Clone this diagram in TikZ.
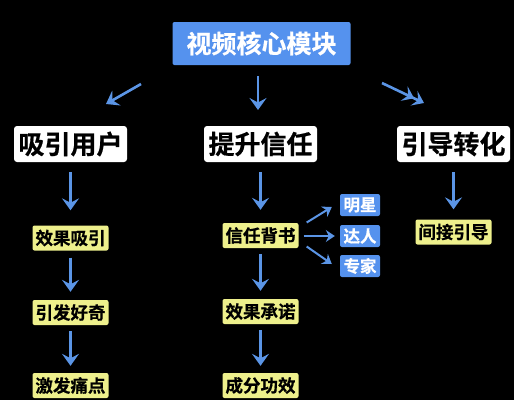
\documentclass[tikz,border=0pt]{standalone}
\usepackage{fontspec}
\setmainfont{Noto Sans CJK SC}[BoldFont={Noto Sans CJK SC Bold},BoldFeatures={FakeBold=0.6}]
\usetikzlibrary{arrows.meta,calc}
\definecolor{bluebox}{HTML}{5592EE}
\definecolor{arrowblue}{HTML}{5B95E6}
\definecolor{yellowbox}{HTML}{EEF08C}
\tikzset{
  titlebox/.style={fill=bluebox, text=white, rounded corners=2pt, minimum width=178pt, minimum height=43pt, font=\fontsize{25}{25}\selectfont\bfseries, inner sep=0pt},
  catbox/.style={fill=white, text=black, rounded corners=3pt, minimum width=113pt, minimum height=36pt, font=\fontsize{26}{26}\selectfont\bfseries, inner sep=0pt},
  itembox/.style={fill=yellowbox, text=black, rounded corners=2pt, minimum width=76pt, minimum height=25pt, font=\fontsize{17.5}{17.5}\selectfont\bfseries, inner sep=0pt},
  tagbox/.style={fill=bluebox, text=white, rounded corners=2pt, minimum width=40pt, minimum height=22pt, font=\fontsize{16.5}{16.5}\selectfont\bfseries, inner sep=0pt},
  conn/.style={draw=arrowblue, line width=2.6pt, -{Stealth[length=12pt,width=17pt,inset=4.5pt]}},
  thinconn/.style={draw=arrowblue, line width=2pt, -{Stealth[length=9pt,width=12pt,inset=3pt]}},
}
\begin{document}
\begin{tikzpicture}[x=1pt,y=-1pt]
\fill[black] (0,0) rectangle (514,400);
\useasboundingbox (0,0) rectangle (514,400);

\node[titlebox] (title) at (261.5,43.5) {视频核心模块};

\node[catbox] (c1) at (70.5,144) {吸引用户};
\node[catbox] (c2) at (260.5,144) {提升信任};
\node[catbox] (c3) at (453.5,144) {引导转化};

\node[itembox] (a1) at (70.5,238) {效果吸引};
\node[itembox] (a2) at (70.5,312.5) {引发好奇};
\node[itembox] (a3) at (70.5,385.5) {激发痛点};

\node[itembox] (b1) at (260.5,235.5) {信任背书};
\node[itembox] (b2) at (260.5,311.5) {效果承诺};
\node[itembox] (b3) at (260.5,385.5) {成分功效};

\node[itembox] (d1) at (453.5,232) {间接引导};

\node[tagbox] (t1) at (360,205) {明星};
\node[tagbox] (t2) at (360,236) {达人};
\node[tagbox] (t3) at (360,266) {专家};

% top-level connectors
\coordinate (s1) at (141,84);  \coordinate (e1) at (106,104);
\coordinate (s2) at (258,76);  \coordinate (e2) at (258,110);
\coordinate (s3) at (382,83);  \coordinate (e3) at (424,103);
\draw[conn] (s1) -- (e1);
\draw[conn] (s2) -- (e2);
\draw[draw=arrowblue, line width=2.6pt, -{Stealth[length=11pt,width=16pt,inset=4.5pt]Stealth[length=11pt,width=16pt,inset=4.5pt]}] (s3) -- (e3);

% column connectors
\draw[conn] ($(c1.south)+(0,10)$) -- ($(a1.north)+(0,-15)$);
\draw[conn] ($(c2.south)+(0,10)$) -- ($(b1.north)+(0,-13)$);
\draw[conn] ($(c3.south)+(0,10)$) -- ($(d1.north)+(0,-10)$);

\draw[conn] ($(a1.south)+(0,7)$) -- ($(a2.north)+(0,-8)$);
\draw[conn] ($(a2.south)+(0,6)$) -- ($(a3.north)+(0,-7)$);
\draw[conn] ($(b1.south)+(0,6)$) -- ($(b2.north)+(0,-8)$);
\draw[conn] ($(b2.south)+(0,6)$) -- ($(b3.north)+(0,-7)$);

% tag connectors
\draw[thinconn] ($(b1.east)+(8,-13)$) -- ($(t1.west)+(-8,2)$);
\draw[thinconn] ($(b1.east)+(5,0.5)$) -- ($(t2.west)+(-5,0)$);
\draw[thinconn] ($(b1.east)+(8,11)$) -- ($(t3.west)+(-8,-2)$);
\end{tikzpicture}
\end{document}
